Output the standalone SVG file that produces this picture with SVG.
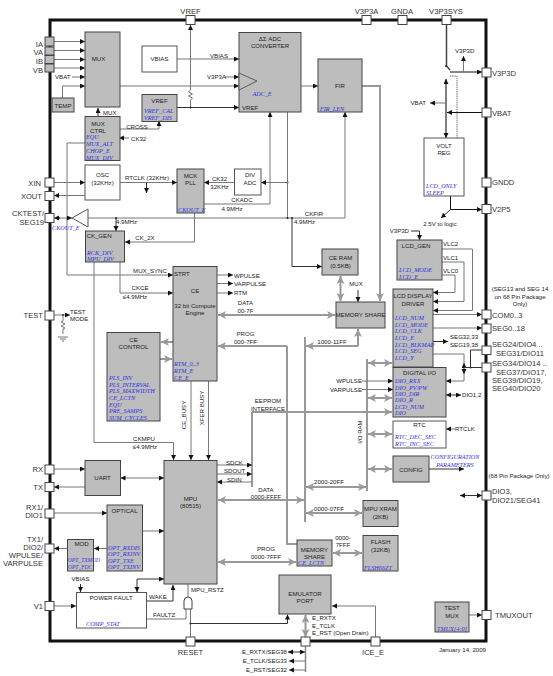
<svg xmlns="http://www.w3.org/2000/svg" width="553" height="676" viewBox="0 0 553 676">
<style>
text{font-family:"Liberation Sans",Arial,sans-serif;font-size:6.1px;fill:#222}
.m{text-anchor:middle}
.e{text-anchor:end}
.p{font-size:7.6px;fill:#333}
.b{font-family:"Liberation Serif","Times New Roman",serif;font-style:italic;font-size:6.2px;fill:#3030e0}
.g{fill:#bdbdbd;stroke:#444;stroke-width:1}
.w{fill:#fff;stroke:#555;stroke-width:1}
.pad{fill:#fff;stroke:#444;stroke-width:1}
.gp{fill:#bdbdbd;stroke:#444;stroke-width:1}
.k{stroke:#777;stroke-width:1;fill:none;marker-end:url(#a)}
.n{stroke:#777;stroke-width:1;fill:none}
.d{stroke:#333;stroke-width:1;fill:none;marker-end:url(#a)}
.x{stroke:#777;stroke-width:1;fill:none;marker-end:url(#a);marker-start:url(#a)}
.h{stroke:#999;stroke-width:2;fill:none}
.hm{stroke:#999;stroke-width:2;fill:none;marker-end:url(#t)}
.hx{stroke:#999;stroke-width:2;fill:none;marker-end:url(#t);marker-start:url(#t)}
.o{fill:#222}
</style>
<defs>
<marker id="a" markerUnits="userSpaceOnUse" markerWidth="6" markerHeight="6" refX="5" refY="2.500" orient="auto-start-reverse"><path d="M0 0L5 2.500L0 5Z" fill="#111"/></marker>
<marker id="t" markerUnits="userSpaceOnUse" markerWidth="9" markerHeight="9" refX="8" refY="4" orient="auto-start-reverse"><path d="M0 0L8 4L0 8L2 4Z" fill="#999"/></marker>
</defs>
<rect id="frame" x="50" y="20" width="436" height="621" fill="#fff" stroke="#111" stroke-width="3"/>
<g id="connectors">
<path class="k" d="M54 41.500H85"/><path class="k" d="M54 50.500H85"/><path class="k" d="M54 59.500H85"/><path class="k" d="M54 68H85"/>
<path class="k" d="M72 77H85"/><path class="k" d="M62.500 98V86H85"/>
<path class="k" d="M120 86H239"/><path class="k" d="M177 59H239"/><path class="k" d="M225 77H239"/>
<path class="d" d="M177 107.500H239"/>
<path class="k" d="M190.500 90V25"/><path class="n" d="M190.500 90l-2 2 4 2-4 2 4 2-2 2v8"/><circle class="o" cx="190.500" cy="107.500" r="1"/>
<path class="d" d="M98 116V108"/>
<path class="k" d="M120 129H159V121"/>
<path class="k" d="M129 138H119"/>
<path class="k" d="M85 143H67V275H173"/>
<path class="k" d="M54 182.500H85"/><path class="k" d="M85 195.500H54"/>
<path class="k" d="M120 182.500H177"/><path class="d" d="M146.500 182.500V193"/>
<path class="k" d="M234 182.500H204"/><path class="k" d="M287.500 182.500H261"/><circle class="o" cx="287.500" cy="182.500" r="1"/>
<path class="k" d="M204 204H270V112"/>
<path class="k" d="M88 218H345V112"/><path class="n" d="M287.500 112V218"/>
<circle class="o" cx="287.500" cy="218" r="1"/><circle class="o" cx="292" cy="218" r="1"/><circle class="o" cx="116" cy="218" r="1"/><circle class="o" cx="59" cy="218" r="1"/>
<path class="d" d="M292 218V266.500H322"/>
<path class="d" d="M116 218V231"/>
<path class="x" d="M72 218H54"/>
<path class="k" d="M194.500 213V242H125"/>
<path class="k" d="M120 262V293H173"/>
<path class="k" d="M94 262V442.500H173.500V460"/>
<path class="k" d="M217 275H233"/><path class="k" d="M217 283.500H233"/><path class="k" d="M217 293H233"/>
<path class="hx" d="M218 315H335"/>
<path class="hm" d="M287 346H218"/>
<path class="h" d="M287 346V544H297"/>
<path class="h" d="M305 337V522"/>
<path class="hm" d="M358 346V329"/><path class="hm" d="M358 346H306"/>
<path class="h" d="M367 359V491"/>
<path class="hx" d="M368 363H392"/><path class="hx" d="M368 398H392"/><path class="hx" d="M368 434H392"/><path class="hx" d="M368 469H392"/>
<path class="hx" d="M306 487H366"/><path class="hx" d="M306 513H362"/>
<path class="hx" d="M218 500H304"/><path class="hx" d="M218 562H296"/>
<path class="hx" d="M333 553H362"/>
<path class="h" d="M252 487V412"/><path class="hm" d="M252 412H392"/>
<path class="k" d="M217 465H252"/><path class="k" d="M217 474H252"/><path class="k" d="M252 482H217"/>
<path class="k" d="M191 381V460"/><path class="k" d="M208.500 381V460"/>
<path class="hm" d="M173 342H161"/><path class="hm" d="M160 359H172"/>
<path class="hx" d="M340.500 276V301"/>
<path class="d" d="M358 290V302"/>
<path class="hm" d="M362 86H380V301"/>
<path class="k" d="M301 86H318"/>
<path class="d" d="M411 231H419.500V240"/>
<path class="k" d="M442 249H472.500V310.500H433"/>
<path class="k" d="M442 262H464V301.500H433"/>
<path class="k" d="M442 275H455V292.500H433"/>
<path class="k" d="M433 314.500H482"/><path class="k" d="M433 328H482"/>
<path class="d" d="M433 341.500H448"/>
<path class="n" d="M433 354H464V381"/>
<path class="x" d="M464 363V374"/>
<path class="k" d="M464 381H446"/>
<circle class="o" cx="470.500" cy="367.500" r="1"/>
<path d="M464 367.500H482M470.500 367.500V350H482" stroke="#333" fill="none"/>
<path class="x" d="M446 395H461" style="stroke:#333"/>
<path class="k" d="M362 381H393"/><path class="k" d="M362 389.500H393"/>
<path class="k" d="M455 429H446"/>
<path class="d" d="M429 469H464"/>
<path class="x" d="M460 495.500H482" style="stroke:#333"/>
<path class="k" d="M469 615H482"/>
<path class="k" d="M375.500 637V606H332"/>
<path class="hx" d="M305.500 615V637"/>
<path d="M305.500 646V672" stroke="#888" stroke-width="1.500" fill="none"/>
<path class="x" d="M288 652H305" style="stroke:#333"/><path class="k" d="M305 661H289"/><path class="k" d="M305 670H289"/>
<path class="n" d="M190.500 637V609"/><circle class="o" cx="190.500" cy="623.500" r="1"/>
<path class="d" d="M190.500 623.500H287.500V614.500"/>
<path class="n" d="M188 584V597"/>
<path class="n" d="M146.500 619H186V609"/>
<path class="d" d="M146.500 601H173V585"/>
<path class="x" d="M137 592V579H164" style="stroke:#333"/>
<path class="d" d="M80.500 584V592"/>
<path class="k" d="M54 606H76"/>
<path class="k" d="M67 548.500H54"/><path class="k" d="M107 548.500H94"/>
<path class="k" d="M54 513H107"/><path class="k" d="M142.500 531H164"/>
<path class="k" d="M54 469H85"/><path class="k" d="M85 487H54"/><path class="x" d="M120.500 478H164"/>
<path class="k" d="M54 315H70"/><circle class="o" cx="63" cy="315" r="1"/><path class="n" d="M63 315V321l-2 1 4 2-4 2 4 2-2 1v5M58 337H68M60 339H66M62 341H64"/>
<path d="M446.500 24V66L450 70" stroke="#444" stroke-width="1.500" fill="none"/><circle class="o" cx="446" cy="66" r="1"/>
<path class="d" d="M450 72H482" style="stroke:#111"/>
<path class="k" d="M463.500 72V56"/>
<path d="M446 79V138" stroke="#555" stroke-width="1.500" marker-start="url(#a)" marker-end="url(#a)"/>
<path class="k" d="M446 103H430"/>
<path class="d" d="M482 112.500H447" style="stroke:#111"/>
<path d="M450 76H457V138" stroke="#777" fill="none" stroke-dasharray="1.500 .7"/>
<path class="d" d="M450.500 196V209.500H482" style="stroke:#111"/>
<path class="d" d="M450.500 209.500L441 218"/>
</g>
<g id="pads">
<rect class="gp" x="45" y="37" width="9" height="9"/><rect class="gp" x="45" y="47" width="9" height="8"/><rect class="gp" x="45" y="55.500" width="9" height="8"/><rect class="gp" x="45" y="64" width="9" height="8"/>
<rect class="pad" x="186" y="15.500" width="9" height="9"/><rect class="pad" x="362" y="15.500" width="9" height="9"/><rect class="pad" x="398" y="15.500" width="9" height="9"/><rect class="pad" x="442" y="15.500" width="9" height="9"/>
<rect class="pad" x="45" y="178" width="9" height="9"/><rect class="pad" x="45" y="191.500" width="9" height="9"/><rect class="pad" x="45" y="213.500" width="9" height="9"/><rect class="pad" x="45" y="311" width="9" height="9"/><rect class="pad" x="45" y="465" width="9" height="9"/><rect class="pad" x="45" y="482.500" width="9" height="9"/><rect class="pad" x="45" y="509" width="9" height="9"/><rect class="pad" x="45" y="544" width="9" height="9"/><rect class="pad" x="45" y="601.500" width="9" height="9"/>
<rect class="pad" x="186" y="637" width="9" height="9"/><rect class="pad" x="301" y="637" width="9" height="9"/><rect class="pad" x="371" y="637" width="9" height="9"/>
<rect class="pad" x="482" y="68" width="9" height="9"/><rect class="pad" x="482" y="108" width="9" height="9"/><rect class="pad" x="482" y="178" width="9" height="9"/><rect class="pad" x="482" y="204.500" width="9" height="9"/><rect class="pad" x="482" y="310" width="9" height="9"/><rect class="pad" x="482" y="324" width="9" height="9"/><rect class="pad" x="482" y="346" width="9" height="8.500"/><rect class="pad" x="482" y="363" width="9" height="9"/><rect class="pad" x="482" y="491" width="9" height="9"/><rect class="pad" x="482" y="610.500" width="9" height="9"/>
</g>
<g id="pin-labels">
<text class="p e" x="43" y="47">IA</text><text class="p e" x="43" y="55">VA</text><text class="p e" x="43" y="64">IB</text><text class="p e" x="43" y="73">VB</text>
<text class="p m" x="190.500" y="13.500">VREF</text><text class="p m" x="366.500" y="13.500">V3P3A</text><text class="p m" x="402" y="13.500">GNDA</text><text class="p m" x="446" y="13.500">V3P3SYS</text>
<text class="p e" x="41" y="185.500">XIN</text><text class="p e" x="42" y="199">XOUT</text><text class="p e" x="44" y="216">CKTEST/</text><text class="p e" x="44" y="225">SEG19</text>
<text class="p e" x="43" y="318">TEST</text><text class="p e" x="43" y="472">RX</text><text class="p e" x="43" y="490">TX</text><text class="p e" x="43" y="510">RX1/</text><text class="p e" x="43" y="518">DIO1</text>
<text class="p e" x="43" y="542">TX1/</text><text class="p e" x="43" y="550">DIO2/</text><text class="p e" x="43" y="558">WPULSE/</text><text class="p e" x="43" y="566">VARPULSE</text><text class="p e" x="43" y="609">V1</text>
<text class="p m" x="190.500" y="655">RESET</text><text class="p m" x="373" y="655">ICE_E</text>
<text class="p" x="492" y="75.500">V3P3D</text><text class="p" x="492" y="115.500">VBAT</text><text class="p" x="492" y="185">GNDD</text><text class="p" x="492" y="212">V2P5</text><text class="p" x="492" y="317.500">COM0..3</text><text class="p" x="492" y="331">SEG0..18</text>
<text class="p" x="492" y="347">SEG24/DIO4 ..</text><text class="p" x="496" y="356">SEG31/DIO11</text><text class="p" x="492" y="366">SEG34/DIO14 ..</text><text class="p" x="496" y="374.500">SEG37/DIO17,</text><text class="p" x="492" y="383">SEG39/DIO19,</text><text class="p" x="492" y="391">SEG40/DIO20</text>
<text class="p" x="492" y="494">DIO3,</text><text class="p" x="492" y="503">DIO21/SEG41</text><text class="p" x="495" y="618">TMUXOUT</text>
<text class="m" x="520" y="291">(SEG13 and SEG 14</text><text class="m" x="520" y="298.500">on 68 Pin Package</text><text class="m" x="520" y="306">Only)</text>
<text class="m" x="519" y="478">(68 Pin Package Only)</text>
<text class="e" x="486" y="652">January 14, 2009</text>
</g>
<g id="MUX"><rect class="g" x="85" y="32" width="35" height="75"/><text class="m" x="98.500" y="61">MUX</text></g>
<g id="VBIAS"><rect class="w" x="142" y="46" width="35" height="26"/><text class="m" x="159.500" y="61">VBIAS</text></g>
<g id="ADC"><rect class="g" x="239" y="32.500" width="62" height="79.500"/><text class="m" x="270" y="41">ΔΣ ADC</text><text class="m" x="270" y="48">CONVERTER</text><path d="M239 73L257 81L239 90Z" fill="#bdbdbd" stroke="#444" stroke-width=".8"/><text class="b m" x="262" y="96">ADC_E</text><text x="242" y="110">VREF</text></g>
<g id="FIR"><rect class="g" x="318" y="59" width="44" height="53"/><text class="m" x="340" y="88">FIR</text><text class="b" x="320" y="111">FIR_LEN</text></g>
<g id="VREFB"><rect class="g" x="142" y="94.500" width="35" height="27"/><text class="m" x="159.500" y="103">VREF</text><text class="b" x="144" y="113">VREF_CAL</text><text class="b" x="144" y="119.500">VREF_DIS</text></g>
<g id="TEMP"><rect class="g" x="52" y="98" width="22" height="14"/><text class="m" x="63" y="108">TEMP</text></g>
<g id="MUXCTRL"><rect class="g" x="85" y="116.500" width="35" height="44"/><text class="m" x="98" y="126">MUX</text><text class="m" x="98" y="133">CTRL</text><text class="b" x="86" y="139">EQU</text><text class="b" x="86" y="146">MUX_ALT</text><text class="b" x="86" y="153">CHOP_E</text><text class="b" x="86" y="159.500">MUX_DIV</text></g>
<g id="OSC"><rect class="w" x="85" y="165" width="35" height="35"/><text class="m" x="102.500" y="177">OSC</text><text class="m" x="102.500" y="184.500">(32KHz)</text></g>
<g id="MCKPLL"><rect class="g" x="177" y="169" width="27" height="44"/><text class="m" x="190.500" y="178">MCK</text><text class="m" x="190.500" y="185">PLL</text><text class="b" x="178" y="212">CKOUT_E</text></g>
<g id="DIVADC"><rect class="w" x="234.500" y="169" width="26.500" height="26"/><text class="m" x="250" y="177">DIV</text><text class="m" x="250" y="185">ADC</text></g>
<g id="BUF"><path d="M72 218L88 209V227Z" fill="#fff" stroke="#555"/></g>
<g id="CKGEN"><rect class="g" x="85.500" y="231" width="39" height="31"/><text x="86.500" y="238">CK_GEN</text><text class="b" x="87" y="254.500">RCK_DIV</text><text class="b" x="87" y="261">MPU_DIV</text></g>
<g id="CE"><rect class="g" x="173" y="266.500" width="44" height="114.500"/><text class="m" x="195" y="293">CE</text><text class="m" x="195" y="308">32 bit Compute</text><text class="m" x="195" y="314.500">Engine</text><text x="174" y="275.500">STRT</text><text class="b" x="174" y="366">RTM_0..3</text><text class="b" x="174" y="373">RTM_E</text><text class="b" x="174" y="380">CE_E</text></g>
<g id="CECONTROL"><rect class="g" x="107" y="332.500" width="53" height="88.500"/><text class="m" x="133.500" y="342">CE</text><text class="m" x="133.500" y="349">CONTROL</text><text class="b" x="109" y="380">PLS_INV</text><text class="b" x="109" y="387">PLS_INTERVAL</text><text class="b" x="109" y="393">PLS_MAXWIDTH</text><text class="b" x="109" y="400">CE_LCTN</text><text class="b" x="109" y="406.500">EQU</text><text class="b" x="109" y="413">PRE_SAMPS</text><text class="b" x="109" y="420">SUM_CYCLES</text></g>
<g id="CERAM"><rect class="g" x="322" y="249" width="36" height="26"/><text class="m" x="340.500" y="260">CE RAM</text><text class="m" x="340.500" y="268">(0.5KB)</text></g>
<g id="MEMSHARE1"><rect class="g" x="336" y="302" width="49" height="26"/><text class="m" x="360.500" y="316.500">MEMORY SHARE</text></g>
<g id="LCDGEN"><rect class="g" x="397" y="240" width="45" height="40"/><text class="m" x="416" y="247.500">LCD_GEN</text><text class="b" x="399" y="272">LCD_MODE</text><text class="b" x="399" y="279">LCD_E</text></g>
<g id="LCDDRIVER"><rect class="g" x="393" y="289" width="40" height="78"/><text class="m" x="413" y="298">LCD DISPLAY</text><text class="m" x="413" y="305.500">DRIVER</text><text class="b" x="395" y="320">LCD_NUM</text><text class="b" x="395" y="327">LCD_MODE</text><text class="b" x="395" y="333">LCD_CLK</text><text class="b" x="395" y="340">LCD_E</text><text class="b" x="395" y="346.500">LCD_BLKMAP</text><text class="b" x="395" y="353">LCD_SEG</text><text class="b" x="395" y="360">LCD_Y</text></g>
<g id="DIGITALIO"><rect class="g" x="393" y="367.500" width="53" height="49.500"/><text class="m" x="419.500" y="374.500">DIGITAL I/O</text><text class="b" x="395" y="383">DIO_RXX</text><text class="b" x="395" y="389.500">DIO_PV/PW</text><text class="b" x="395" y="395.500">DIO_DIR</text><text class="b" x="395" y="402">DIO_R</text><text class="b" x="395" y="408.500">LCD_NUM</text><text class="b" x="395" y="415">DIO</text></g>
<g id="RTC"><rect class="w" x="393" y="421" width="53" height="27"/><text class="m" x="419.500" y="427">RTC</text><text class="b" x="395" y="439">RTC_DEC_SEC</text><text class="b" x="395" y="446">RTC_INC_SEC</text></g>
<g id="CONFIG"><rect class="g" x="393" y="456" width="36" height="26"/><text class="m" x="411" y="471.500">CONFIG</text></g>
<g id="VOLTREG"><rect class="w" x="424" y="138" width="40" height="58"/><text class="m" x="444" y="148">VOLT</text><text class="m" x="444" y="155">REG</text><text class="b" x="426" y="188">LCD_ONLY</text><text class="b" x="426" y="195">SLEEP</text></g>
<g id="UART"><rect class="g" x="85" y="460.500" width="35.500" height="35"/><text class="m" x="102.500" y="479.500">UART</text></g>
<g id="MPU"><rect class="g" x="164" y="460.500" width="53" height="123.500"/><text class="m" x="190.500" y="501">MPU</text><text class="m" x="190.500" y="508">(80515)</text></g>
<g id="OPTICAL"><rect class="g" x="107" y="505" width="35.500" height="66"/><text class="m" x="124.500" y="513">OPTICAL</text><text class="b" x="108" y="550">OPT_RXDIS</text><text class="b" x="108" y="556">OPT_RXINV</text><text class="b" x="108" y="562.500">OPT_TXE</text><text class="b" x="108" y="569">OPT_TXINV</text></g>
<g id="MOD"><rect class="g" x="67.500" y="539.500" width="26" height="31.500"/><text class="m" x="81.500" y="546">MOD</text><text class="b" x="68" y="562" style="font-size:5.500px">OPT_TXMOD</text><text class="b" x="68" y="569" style="font-size:5.500px">OPT_FDC</text></g>
<g id="POWERFAULT"><rect class="w" x="76.500" y="592.500" width="70" height="35.500"/><text class="m" x="111" y="599.500">POWER FAULT</text><text class="b" x="86" y="626">COMP_STAT</text></g>
<g id="MPUXRAM"><rect class="g" x="363" y="500.500" width="35" height="26"/><text class="m" x="380.500" y="511">MPU XRAM</text><text class="m" x="380.500" y="519">(2KB)</text></g>
<g id="MEMSHARE2"><rect class="g" x="297" y="540" width="35" height="26"/><text class="m" x="314.500" y="551.500">MEMORY</text><text class="m" x="314.500" y="558.500">SHARE</text><text class="b" x="298" y="565">CE_LCTN</text></g>
<g id="FLASH"><rect class="g" x="363" y="535.500" width="35" height="35.500"/><text class="m" x="380.500" y="544">FLASH</text><text class="m" x="380.500" y="552">(32KB)</text><text class="b" x="364" y="569.500">FLSH66ZT</text></g>
<g id="EMULATOR"><rect class="g" x="279" y="575" width="52" height="39"/><text class="m" x="305" y="595.500">EMULATOR</text><text class="m" x="305" y="602.500">PORT</text></g>
<g id="TESTMUX"><rect class="g" x="435" y="602" width="34" height="30"/><text class="m" x="452" y="610">TEST</text><text class="m" x="452" y="617.500">MUX</text><text class="b m" x="452" y="631">TMUX[4:0]</text></g>
<g id="ANDGATE"><path d="M184 609V601A4 4 0 0 1 192 601V609Z" fill="#fff" stroke="#444"/></g>
<g id="labels">
<text x="210" y="58">VBIAS</text><text x="207" y="79">V3P3A</text><text x="55" y="79">VBAT</text><text x="103" y="115">MUX</text><text class="m" x="137" y="129">CROSS</text><text x="131" y="141">CK32</text>
<text class="m" x="147" y="180">RTCLK (32KHz)</text><text class="m" x="219.500" y="181">CK32</text><text class="m" x="219.500" y="189">32KHz</text><text class="m" x="242" y="202">CKADC</text><text class="m" x="232" y="211">4.9MHz</text><text class="m" x="314" y="216">CKFIR</text><text x="294" y="224">4.9MHz</text><text x="116" y="224">4.9MHz</text>
<text class="b" x="52" y="230">CKOUT_E</text><text class="m" x="145" y="240">CK_2X</text><text class="m" x="150" y="273">MUX_SYNC</text><text class="m" x="140" y="290">CKCE</text><text class="m" x="135" y="299">≤4.9MHz</text><text class="m" x="144" y="441">CKMPU</text><text class="m" x="145" y="449">≤4.9MHz</text>
<text x="234" y="278">WPULSE</text><text x="234" y="286">VARPULSE</text><text x="234" y="295">RTM</text>
<text x="70" y="314">TEST</text><text x="70" y="321">MODE</text>
<text class="m" x="245.500" y="305">DATA</text><text class="m" x="245.500" y="313">00-7F</text><text class="m" x="245.500" y="336">PROG</text><text class="m" x="245.500" y="344">000-7FF</text>
<text class="m" x="332" y="344">1000-11FF</text><text class="m" x="356" y="286">MUX</text>
<text class="m" x="268" y="403">EEPROM</text><text class="m" x="268" y="411">INTERFACE</text>
<text x="226" y="465">SDCK</text><text x="224" y="473">SDOUT</text><text x="227" y="482">SDIN</text>
<text class="m" x="266" y="492">DATA</text><text class="m" x="266" y="499">0000-FFFF</text><text class="m" x="266" y="551">PROG</text><text class="m" x="266" y="559">0000-7FFF</text>
<text class="m" x="329" y="484">2000-20FF</text><text class="m" x="329" y="511">0000-07FF</text><text class="m" x="343" y="540">0000-</text><text class="m" x="343" y="547">7FFF</text>
<text class="m" x="186" y="415" transform="rotate(-90 186 415)" style="fill:#224">CE_BUSY</text><text class="m" x="203.500" y="408" transform="rotate(-90 203.500 408)">XFER BUSY</text><text class="m" x="361.500" y="432" transform="rotate(-90 361.500 432)">I/O RAM</text>
<text x="443" y="246">VLC2</text><text x="443" y="259.500">VLC1</text><text x="443" y="272.500">VLC0</text><text class="e" x="409" y="233">V3P3D</text><text x="450" y="339">SEG32,33</text><text x="450" y="347">SEG19,38</text><text x="462" y="397">DIO1,2</text>
<text class="e" x="362" y="383">WPULSE</text><text class="e" x="362" y="392">VARPULSE</text><text x="455" y="431">RTCLK</text>
<text class="b m" x="455" y="458.500">CONFIGURATION</text><text class="b m" x="455" y="466.500">PARAMETERS</text>
<text x="455" y="52.500">V3P3D</text><text class="e" x="426" y="105">VBAT</text><text class="m" x="440" y="226">2.5V to logic</text>
<text class="m" x="80.500" y="581">VBIAS</text><text x="149" y="599">WAKE</text><text x="153" y="617">FAULTZ</text><text x="191" y="592">MPU_RSTZ</text>
<text x="312" y="620">E_RXTX</text><text x="312" y="627.500">E_TCLK</text><text x="312" y="634.500">E_RST (Open Drain)</text>
<text class="e" x="287" y="654">E_RXTX/SEG38</text><text class="e" x="287" y="663">E_TCLK/SEG33</text><text class="e" x="287" y="672">E_RST/SEG32</text>
</g>
</svg>
